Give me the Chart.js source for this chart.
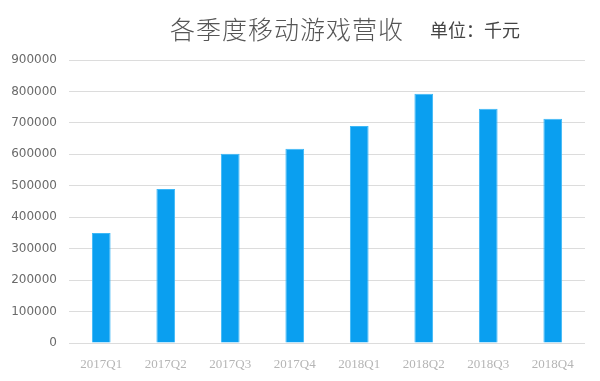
<!DOCTYPE html>
<html><head><meta charset="utf-8">
<script src="https://cdn.jsdelivr.net/npm/chart.js@4"></script>
<style>
html,body{margin:0;padding:0;background:#fff;}
#wrap{position:relative;width:600px;height:381px;}
#t1{position:absolute;left:170px;top:10px;font:300 25px "Noto Sans CJK SC",sans-serif;color:#555;white-space:nowrap;letter-spacing:1px;}
#t2{position:absolute;left:430px;top:16px;font:18px "Noto Sans CJK SC",sans-serif;color:#444;white-space:nowrap;}
</style></head>
<body><div id="wrap"><canvas id="c" width="600" height="381"></canvas>
<div id="t1">各季度移动游戏营收</div><div id="t2">单位：千元</div></div>
<script>
const categories = ["2017Q1","2017Q2","2017Q3","2017Q4","2018Q1","2018Q2","2018Q3","2018Q4"];
const revenue = [350000, 490000, 602000, 618000, 690000, 793000, 745000, 713000];
const yTicks = [0,100000,200000,300000,400000,500000,600000,700000,800000,900000];

new Chart(document.getElementById('c'), {
  type: 'bar',
  data: { labels: categories, datasets: [{ data: revenue, backgroundColor: '#0A9FF0', borderColor:'#3DB8F7', borderWidth:1, barPercentage: 0.29, categoryPercentage: 1 }] },
  options: {
    responsive: false, animation: false,
    layout: { padding: { top: 60, right: 15, bottom: 6, left: 0 } },
    plugins: { legend: { display: false }, tooltip: { enabled: false } },
    scales: {
      x: {
        grid: { display: false }, border: { display: false },
        ticks: { color: '#b5b5b5', font: { family: 'Liberation Serif', size: 13 }, padding: 6, maxRotation: 0 },
        afterFit: s => { s.height = 32; }
      },
      y: {
        min: 0, max: 900000,
        afterBuildTicks: s => { s.ticks = yTicks.map(v => ({ value: v })); },
        grid: { color: '#dcdcdc', lineWidth: 1, drawTicks: false },
        border: { display: false },
        ticks: { color: '#6a6a6a', font: { family: 'DejaVu Sans', size: 12 }, padding: 12, callback: v => String(v) },
        afterFit: s => { s.width = 69; }
      }
    }
  }
});
</script></body></html>
